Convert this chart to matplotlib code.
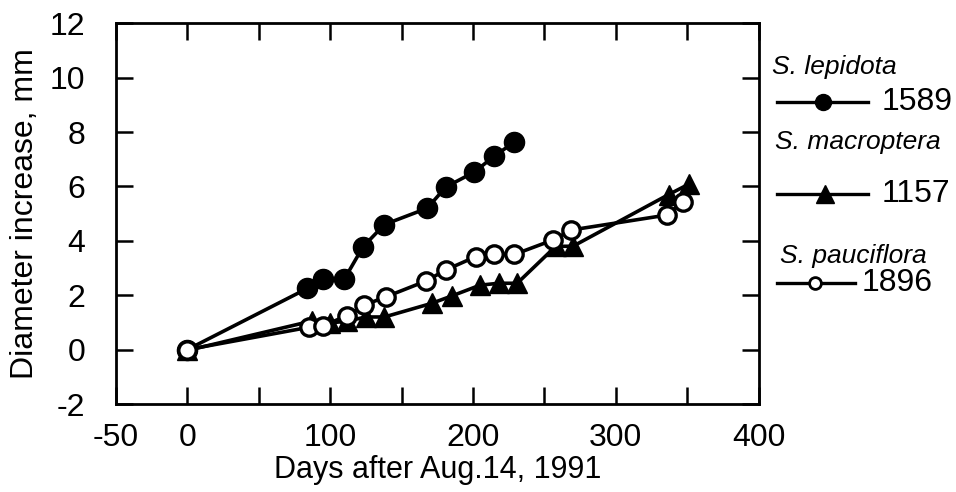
import matplotlib.pyplot as plt

plt.rcParams["font.family"] = ["Liberation Sans", "DejaVu Sans"]
plt.rcParams["axes.unicode_minus"] = False

# days after Aug. 14, 1991 and diameter increase (mm)
lep_days = [0, 84, 95, 110, 123, 138, 168, 181, 201, 215, 229]
lep_vals = [0.0, 2.25, 2.6, 2.6, 3.78, 4.6, 5.2, 5.98, 6.53, 7.12, 7.63]

mac_days = [0, 87, 100, 112, 125, 138, 171, 185, 205, 218, 231, 258, 270, 337, 351]
mac_vals = [-0.03, 1.05, 0.98, 1.05, 1.2, 1.2, 1.7, 1.97, 2.37, 2.44, 2.44, 3.8, 3.8, 5.7, 6.08]

pau_days = [0, 85, 95, 112, 124, 139, 167, 181, 202, 215, 229, 256, 269, 336, 347]
pau_vals = [0.0, 0.82, 0.88, 1.25, 1.64, 1.94, 2.52, 2.93, 3.42, 3.5, 3.5, 4.03, 4.4, 4.95, 5.44]

species = ["S. lepidota", "S. macroptera", "S. pauciflora"]
tree_ids = ["1589", "1157", "1896"]

xtick_vals = list(range(-50, 401, 50))
xtick_labels = ["-50", "0", "", "100", "", "200", "", "300", "", "400"]
ytick_vals = list(range(-2, 13, 2))

fig = plt.figure(figsize=(9.56, 4.92), dpi=100)
ax = fig.add_axes([116 / 956, 1 - 404 / 492, (758.5 - 116) / 956, (404 - 23.3) / 492])

ax.plot(lep_days, lep_vals, "-", color="black", lw=2.6, marker="o",
        ms=14.5, mfc="black", mec="black", zorder=3)
ax.plot(mac_days, mac_vals, "-", color="black", lw=2.6, marker="^",
        ms=14.5, mfc="black", mec="black", zorder=4)
ax.plot(pau_days, pau_vals, "-", color="black", lw=2.6, marker="o",
        ms=12.5, mfc="white", mec="black", mew=2.4, zorder=5)

ax.set_xlim(-50, 400)
ax.set_ylim(-2, 12)
ax.set_xticks(xtick_vals)
ax.set_xticklabels(xtick_labels)
ax.set_yticks(ytick_vals)
ax.tick_params(direction="in", length=12, width=1.8, labelsize=23,
               top=True, right=True)
ax.tick_params(axis="y", pad=22)
ax.tick_params(axis="x", pad=14)
for s in ax.spines.values():
    s.set_linewidth(2)

ax.set_xlabel("Days after Aug.14, 1991", fontsize=22, labelpad=1)
ax.set_ylabel("Diameter increase, mm", fontsize=23, labelpad=7)

# legend drawn by hand on an overlay in pixel units
lg = fig.add_axes([0, 0, 1, 1])
lg.set_xlim(0, 956)
lg.set_ylim(492, 0)
lg.axis("off")

title_y = [67, 142, 256]
line_y = [102, 194, 283]
line_x = [(777, 868), (777, 868), (777, 855)]
mark_x = [823, 825, 815]
text_x = [882, 882, 862]
title_x = [772, 775, 780]
styles = [dict(marker="o", ms=11.5, mfc="black", mec="black"),
          dict(marker="^", ms=12.5, mfc="black", mec="black"),
          dict(marker="o", ms=8.5, mfc="white", mec="black", mew=2)]

for i in range(3):
    lg.text(title_x[i], title_y[i], species[i], fontsize=19, style="italic",
            ha="left", va="center")
    lg.plot(line_x[i], [line_y[i], line_y[i]], color="black", lw=2.4)
    lg.plot([mark_x[i]], [line_y[i]], color="black", **styles[i])
    lg.text(text_x[i], line_y[i], tree_ids[i], fontsize=23, ha="left", va="center")

fig.savefig("out.png", dpi=100)
